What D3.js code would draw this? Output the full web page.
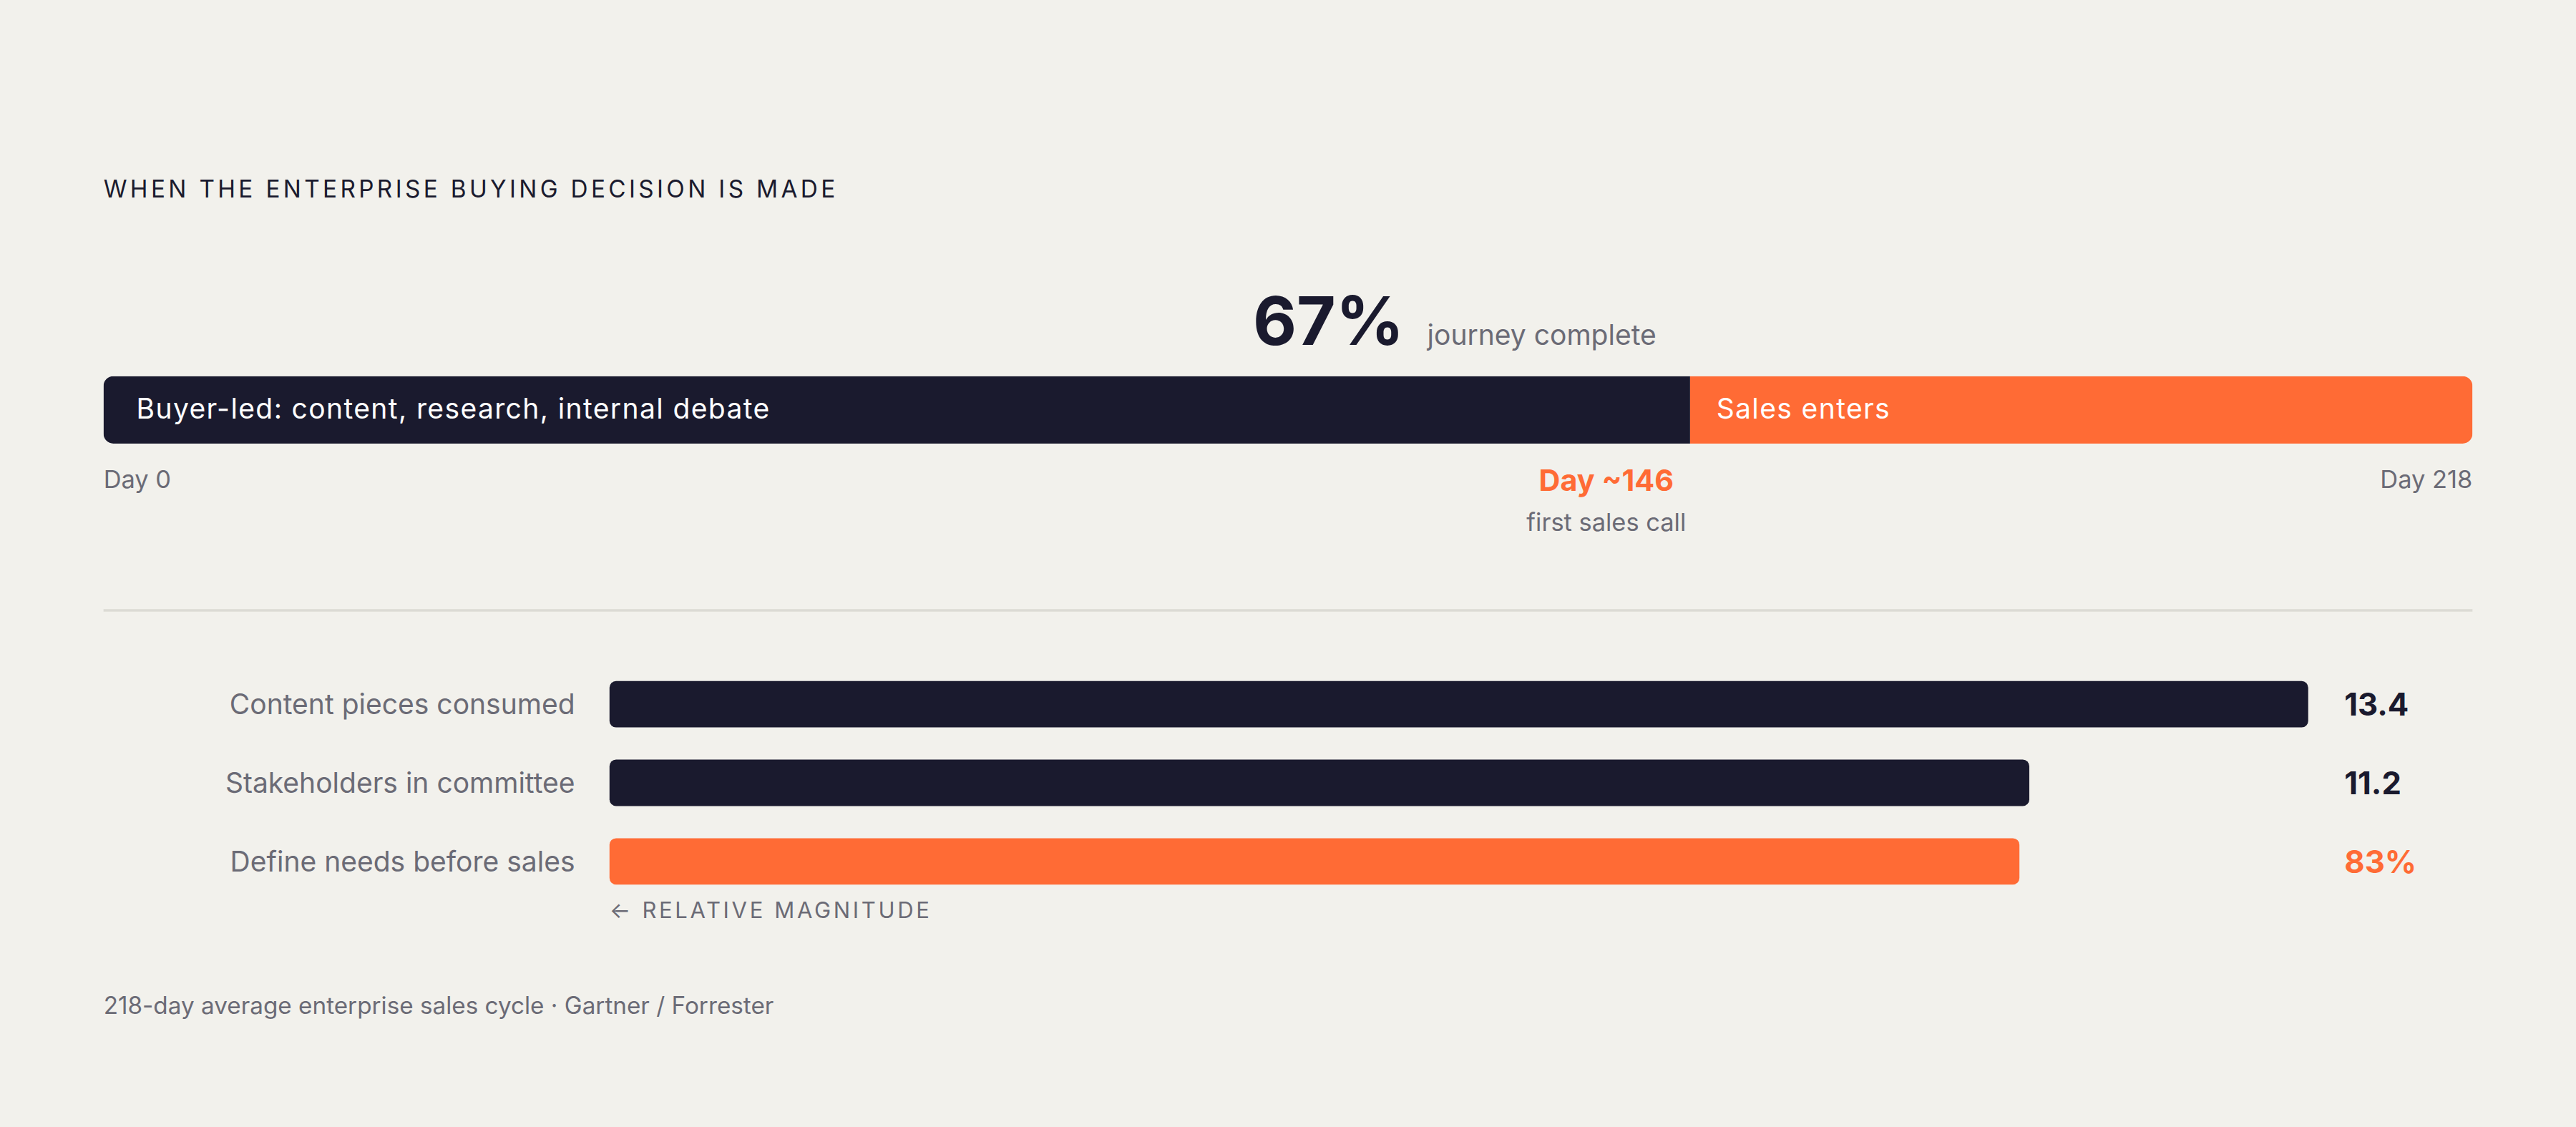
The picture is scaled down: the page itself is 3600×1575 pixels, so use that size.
<!DOCTYPE html>
<html><head><meta charset="utf-8">
<script src="https://cdn.jsdelivr.net/npm/d3@7"></script>
<style>
html,body{margin:0;padding:0;background:#f2f1ec;}
svg{display:block;font-family:Inter,"Noto Sans",sans-serif;}
</style></head>
<body><div id="chart"></div>
<script>
// journey timeline
var totalDays = 218;
var salesDay = 146;
var journeyPct = "67%";
var segLabels = ["Buyer-led: content, research, internal debate", "Sales enters"];

// comparison bars
var metrics = ["Content pieces consumed", "Stakeholders in committee", "Define needs before sales"];
var metricText = ["13.4", "11.2", "83%"];
var magnitude = [1.0, 11.2 / 13.4, 0.83];

var navy = "#1a1a2e", orange = "#ff6b35", grey = "#6b6b76";

var W = 1568, H = 686;
var svg = d3.select("#chart").append("svg")
    .attr("width", 3600).attr("height", 1575)
    .attr("viewBox", "0 0 " + W + " " + H);

svg.append("rect").attr("width", W).attr("height", H).attr("fill", "#f2f1ec");

svg.append("text").attr("x", 63).attr("y", 120)
    .attr("font-size", 14.5).attr("letter-spacing", 1.9).attr("fill", navy)
    .text("WHEN THE ENTERPRISE BUYING DECISION IS MADE");

var x = d3.scaleLinear().domain([0, totalDays]).range([63, 1505]);
var barY = 229, barH = 41;

// rounded full track clipped into two colors
var clip = svg.append("defs").append("clipPath").attr("id", "trk");
clip.append("rect").attr("x", x(0)).attr("y", barY).attr("width", x(totalDays) - x(0))
    .attr("height", barH).attr("rx", 6);
var trk = svg.append("g").attr("clip-path", "url(#trk)");
trk.append("rect").attr("x", x(0)).attr("y", barY).attr("width", x(salesDay) - x(0))
    .attr("height", barH).attr("fill", navy);
trk.append("rect").attr("x", x(salesDay)).attr("y", barY).attr("width", x(totalDays) - x(salesDay))
    .attr("height", barH).attr("fill", orange);

svg.append("text").attr("x", x(0) + 20).attr("y", 255).attr("font-size", 17)
    .attr("letter-spacing", 0.6).attr("fill", "#fff").text(segLabels[0]);
svg.append("text").attr("x", x(salesDay) + 16).attr("y", 255).attr("font-size", 17)
    .attr("letter-spacing", 0.6).attr("fill", "#fff").text(segLabels[1]);

svg.append("text").attr("x", x(salesDay) - 174).attr("y", 210).attr("text-anchor", "end")
    .attr("font-size", 41).attr("font-weight", 700).attr("fill", navy).text(journeyPct);
svg.append("text").attr("x", x(salesDay) - 160).attr("y", 210)
    .attr("font-size", 17).attr("fill", grey).text("journey complete");

svg.append("text").attr("x", x(0)).attr("y", 297).attr("font-size", 15)
    .attr("fill", grey).text("Day 0");
svg.append("text").attr("x", x(totalDays)).attr("y", 297).attr("font-size", 15)
    .attr("text-anchor", "end").attr("fill", grey).text("Day " + totalDays);
svg.append("text").attr("x", x(salesDay) - 51).attr("y", 299).attr("font-size", 18)
    .attr("font-weight", 700).attr("text-anchor", "middle").attr("fill", orange).text("Day ~" + salesDay);
svg.append("text").attr("x", x(salesDay) - 51).attr("y", 323).attr("font-size", 15)
    .attr("text-anchor", "middle").attr("fill", grey).text("first sales call");

svg.append("line").attr("x1", 63).attr("x2", 1505).attr("y1", 371.5).attr("y2", 371.5)
    .attr("stroke", "#dcdbd5").attr("stroke-width", 1.5);

var xb = d3.scaleLinear().domain([0, 1]).range([371, 1405]);
var yb = d3.scaleBand().domain(metrics).range([405, 548]).paddingInner(0.41).paddingOuter(0.2);

var rows = svg.selectAll(".row").data(metrics).enter().append("g").attr("class", "row");
rows.append("rect")
    .attr("x", xb(0)).attr("y", function (d) { return yb(d); })
    .attr("width", function (d, i) { return xb(magnitude[i]) - xb(0); })
    .attr("height", yb.bandwidth()).attr("rx", 4)
    .attr("fill", function (d, i) { return i == 2 ? orange : navy; });
rows.append("text")
    .attr("x", 350).attr("y", function (d) { return yb(d) + yb.bandwidth() / 2 + 6; })
    .attr("text-anchor", "end").attr("font-size", 17).attr("fill", grey)
    .text(function (d) { return d; });
rows.append("text")
    .attr("x", 1427).attr("y", function (d) { return yb(d) + yb.bandwidth() / 2 + 7; })
    .attr("font-size", 19).attr("font-weight", 700)
    .attr("fill", function (d, i) { return i == 2 ? orange : navy; })
    .text(function (d, i) { return metricText[i]; });

svg.append("text").attr("x", 371).attr("y", 559).attr("font-size", 13.5)
    .attr("letter-spacing", 1.6).attr("fill", grey).text("\u2190 RELATIVE MAGNITUDE");

svg.append("text").attr("x", 63).attr("y", 617).attr("font-size", 14.5)
    .attr("fill", grey).text("218-day average enterprise sales cycle \u00b7 Gartner / Forrester");
</script>
</body></html>
